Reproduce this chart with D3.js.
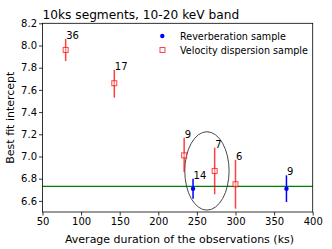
<!DOCTYPE html>
<html>
<head>
<meta charset="utf-8">
<script src="https://cdn.jsdelivr.net/npm/d3@7"></script>
<style>
  body { margin: 0; background: #fff; }
  text { font-family: "DejaVu Sans", sans-serif; fill: #000; }
</style>
</head>
<body>
<div id="chart"></div>
<script>
// velocity dispersion sample (red squares)
var velX = [80, 143, 233.5, 273, 300];
var velY = [7.96, 7.66, 7.01, 6.87, 6.75];
var velLo = [7.86, 7.53, 6.86, 6.66, 6.53];
var velHi = [8.06, 7.78, 7.17, 7.08, 6.97];
var velN = ["36", "17", "9", "7", "6"];

// reverberation sample (blue dots)
var revX = [245, 366];
var revY = [6.71, 6.71];
var revLo = [6.62, 6.59];
var revHi = [6.80, 6.83];
var revN = ["14", "9"];

var hLine = 6.73;
var ellipse = { cx: 263, cy: 6.87, rx: 28.7, ry: 0.353 };

var xTicks = [50, 100, 150, 200, 250, 300, 350, 400];
var yTicks = [6.6, 6.8, 7.0, 7.2, 7.4, 7.6, 7.8, 8.0, 8.2];

var W = 332, H = 249;
var m = { l: 42.5, r: 19.3, t: 23.3, b: 37 };

var svg = d3.select("#chart").append("svg")
  .attr("width", W)
  .attr("height", H)

var x = d3.scaleLinear().domain([50, 400]).range([m.l, W - m.r]);
var y = d3.scaleLinear().domain([6.5, 8.2]).range([H - m.b, m.t]);

var g = svg.append("g");

// horizontal green line
g.append("line")
  .attr("x1", x(50)).attr("x2", x(400))
  .attr("y1", y(hLine)).attr("y2", y(hLine))
  .attr("stroke", "green")
  .attr("stroke-width", 1.2)

// ellipse
g.append("ellipse")
  .attr("cx", x(ellipse.cx))
  .attr("cy", y(ellipse.cy))
  .attr("rx", x(ellipse.cx + ellipse.rx) - x(ellipse.cx))
  .attr("ry", y(ellipse.cy) - y(ellipse.cy + ellipse.ry))
  .attr("fill", "none")
  .attr("stroke", "#333")
  .attr("stroke-width", 0.9)

// red error bars + squares
velX.forEach(function (d, i) {
  g.append("line")
    .attr("x1", x(d)).attr("x2", x(d))
    .attr("y1", y(velLo[i])).attr("y2", y(velHi[i]))
    .attr("stroke", "red")
    .attr("stroke-opacity", 0.75)
    .attr("stroke-width", 1.5)
  g.append("rect")
    .attr("x", x(d) - 2.5).attr("y", y(velY[i]) - 2.5)
    .attr("width", 5).attr("height", 5)
    .attr("fill", "#fff")
    .attr("fill-opacity", 0.4)
    .attr("stroke", "red")
    .attr("stroke-opacity", 0.75)
    .attr("stroke-width", 1)
  g.append("text")
    .attr("x", x(d) + 0.5)
    .attr("y", y(velHi[i]))
    .attr("font-size", "10px")
    .text(velN[i])
})

// blue error bars + dots
revX.forEach(function (d, i) {
  g.append("line")
    .attr("x1", x(d)).attr("x2", x(d))
    .attr("y1", y(revLo[i])).attr("y2", y(revHi[i]))
    .attr("stroke", "blue")
    .attr("stroke-width", 1.5)
  g.append("circle")
    .attr("cx", x(d)).attr("cy", y(revY[i]))
    .attr("r", 2.2)
    .attr("fill", "blue")
  g.append("text")
    .attr("x", x(d) + 0.5)
    .attr("y", y(revHi[i]))
    .attr("font-size", "10px")
    .text(revN[i])
})

// axes
var xAxis = svg.append("g")
  .attr("transform", "translate(0," + (H - m.b) + ")")
  .call(d3.axisBottom(x).tickValues(xTicks).tickFormat(d3.format("d")).tickSize(3.5).tickPadding(2))
var yAxis = svg.append("g")
  .attr("transform", "translate(" + m.l + ",0)")
  .call(d3.axisLeft(y).tickValues(yTicks).tickFormat(d3.format(".1f")).tickSize(3.5).tickPadding(2))

svg.selectAll(".tick text").attr("font-size", "10px").attr("font-family", "DejaVu Sans")
svg.selectAll(".domain").remove()
svg.selectAll(".tick line").attr("stroke", "#000").attr("stroke-width", 0.8)

// frame
svg.append("rect")
  .attr("x", m.l).attr("y", m.t)
  .attr("width", W - m.l - m.r).attr("height", H - m.t - m.b)
  .attr("fill", "none")
  .attr("stroke", "#000")
  .attr("stroke-width", 0.8)

// legend
var legend = svg.append("g")
legend.append("circle")
  .attr("cx", 162.3).attr("cy", 36)
  .attr("r", 2.2).attr("fill", "blue")
legend.append("rect")
  .attr("x", 160).attr("y", 47.5)
  .attr("width", 5).attr("height", 5)
  .attr("fill", "#fff")
  .attr("stroke", "red")
  .attr("stroke-opacity", 0.75)
legend.append("text")
  .attr("x", 180).attr("y", 39.5)
  .attr("font-size", "9.6px")
  .text("Reverberation sample")
legend.append("text")
  .attr("x", 180).attr("y", 53.5)
  .attr("font-size", "9.6px")
  .text("Velocity dispersion sample")

// title and labels
svg.append("text")
  .attr("x", m.l).attr("y", 18.5)
  .attr("font-size", "12.2px")
  .text("10ks segments, 10-20 keV band")

svg.append("text")
  .attr("x", 179.5).attr("y", 243)
  .attr("text-anchor", "middle")
  .attr("font-size", "11px")
  .text("Average duration of the observations (ks)")

svg.append("text")
  .attr("transform", "translate(14," + ((m.t + H - m.b) / 2) + ") rotate(-90)")
  .attr("text-anchor", "middle")
  .attr("font-size", "11px")
  .text("Best fit intercept")
</script>
</body>
</html>
